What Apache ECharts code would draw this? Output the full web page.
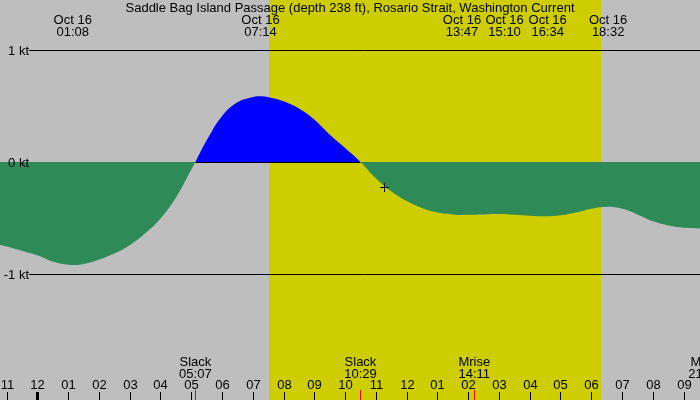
<!DOCTYPE html>
<html>
<head>
<meta charset="utf-8">
<script src="https://cdn.jsdelivr.net/npm/echarts@6/dist/echarts.min.js"></script>
<style>
html,body{margin:0;padding:0;background:#BEBEBE;}
#c{width:700px;height:400px;}
</style>
</head>
<body>
<div id="c"></div>
<script>
// ---------- data ----------
const titleText = 'Saddle Bag Island Passage (depth 238 ft), Rosario Strait, Washington Current';

// hours since midnight Oct 16 (local), current speed in knots (+ flood, - ebb)
const hours = [-1.232, -1, -0.5, 0, 0.5, 1, 1.133, 1.5, 2, 2.5, 3, 3.5, 4, 4.5, 5, 5.117,
  5.5, 6, 6.5, 7, 7.233, 7.5, 8, 8.5, 9, 9.5, 10, 10.483,
  11, 11.5, 12, 12.5, 13, 13.5, 13.783, 14, 14.5, 15, 15.5, 16, 16.5, 17, 17.5, 18, 18.5,
  19, 19.5, 20, 20.5, 21, 21.518];
const knots = [-0.74, -0.755, -0.795, -0.835, -0.89, -0.918, -0.92, -0.91, -0.87, -0.815, -0.74, -0.635, -0.50, -0.31, -0.06, 0,
  0.20, 0.415, 0.535, 0.58, 0.587, 0.578, 0.54, 0.475, 0.375, 0.24, 0.12, 0,
  -0.15, -0.265, -0.35, -0.412, -0.45, -0.468, -0.473, -0.472, -0.468, -0.465, -0.472, -0.48, -0.485, -0.475, -0.45, -0.418, -0.40,
  -0.418, -0.47, -0.53, -0.567, -0.587, -0.593];

// daylight (sunrise / sunset, hours)
const daylight = [7.51, 18.30];

// hour ticks and their labels
const hourTicks = [-1, 0, 1, 2, 3, 4, 5, 6, 7, 8, 9, 10, 11, 12, 13, 14, 15, 16, 17, 18, 19, 20, 21];
const hourLabels = ['11','12','01','02','03','04','05','06','07','08','09','10','11','12','01','02','03','04','05','06','07','08','09'];

// max / min current events (top)
const topEventTimes = [1.133, 7.233, 13.783, 15.167, 16.567, 18.533];
const topEventDates = ['Oct 16', 'Oct 16', 'Oct 16', 'Oct 16', 'Oct 16', 'Oct 16'];
const topEventClock = ['01:08', '07:14', '13:47', '15:10', '16:34', '18:32'];

// slack / moon events (bottom)
const bottomEventTimes = [5.117, 10.483, 14.183, 21.667];
const bottomEventNames = ['Slack', 'Slack', 'Mrise', 'Mset'];
const bottomEventClock = ['05:07', '10:29', '14:11', '21:40'];

// slack times bounding the flood (zero line visible there)
const slackTimes = [5.117, 10.483];

// current-time marker
const nowTime = [11.245];
const nowKnots = [-0.226];

// speed reference lines
const ktValues = [1, 0, -1];
const ktLabels = ['1 kt', '0 kt', '-1 kt'];

// ---------- chart ----------
const X_MIN = -1.2317, X_MAX = 21.5177;
const Y_MAX = 162 / 112, Y_MIN = -238 / 112;
const FAM = '"Liberation Sans", Arial, sans-serif';
const FONT = '13px ' + FAM;

const chart = echarts.init(document.getElementById('c'), null, {renderer: 'canvas', width: 700, height: 400});

const curveData = hours.map((h, i) => [h, knots[i]]);

const option = {
  animation: false,
  backgroundColor: '#BEBEBE',
  title: {
    text: titleText, left: 'center', top: 0, padding: 0,
    textStyle: {fontSize: 13, fontWeight: 'normal', fontFamily: FAM, color: '#000', lineHeight: 16}
  },
  grid: {left: 0, right: 0, top: 0, bottom: 0},
  xAxis: {type: 'value', min: X_MIN, max: X_MAX, show: false},
  yAxis: {type: 'value', min: Y_MIN, max: Y_MAX, show: false},
  visualMap: {
    type: 'piecewise', show: false, seriesIndex: 1, dimension: 1,
    pieces: [{min: -5, max: 0, color: '#2E8B57'}, {gt: 0, max: 5, color: '#0000FF'}]
  },
  series: [
    // daylight band
    {
      type: 'custom', z: 1, silent: true,
      data: [[daylight[0], daylight[1]]],
      renderItem: (p, api) => {
        const a = api.coord([api.value(0), Y_MAX]);
        const b = api.coord([api.value(1), Y_MIN]);
        const x0 = Math.round(a[0]), x1 = Math.round(b[0]);
        return {type: 'rect', shape: {x: x0, y: a[1], width: x1 - x0, height: b[1] - a[1]}, style: {fill: '#CDCD00'}};
      }
    },
    // current curve
    {
      type: 'line', z: 2, silent: true,
      data: curveData, smooth: 0.4, showSymbol: false,
      lineStyle: {width: 0, opacity: 0},
      areaStyle: {opacity: 1}
    },
    // kt reference lines and labels
    {
      type: 'custom', z: 3, silent: true,
      data: ktValues.map((v, i) => [X_MIN, v, i]),
      renderItem: (p, api) => {
        const v = api.value(1);
        const c = api.coord([X_MIN, v]);
        const y = Math.round(c[1]) + 0.5;
        const children = [{
          type: 'text',
          style: {text: ktLabels[api.value(2)], x: 29, y: y + 0.5, align: 'right', verticalAlign: 'middle', font: FONT, fill: '#000'}
        }];
        if (v !== 0) {
          children.push({type: 'line', shape: {x1: 29, y1: y, x2: 700, y2: y}, style: {stroke: '#000', lineWidth: 1}});
        }
        return {type: 'group', children};
      }
    },
    // zero line during flood
    {
      type: 'custom', z: 3, silent: true,
      data: [[slackTimes[0], slackTimes[1]]],
      renderItem: (p, api) => {
        const a = api.coord([api.value(0), 0]);
        const b = api.coord([api.value(1), 0]);
        const y = Math.round(a[1]) + 0.5;
        return {type: 'line', shape: {x1: a[0], y1: y, x2: b[0], y2: y}, style: {stroke: '#000', lineWidth: 1}};
      }
    },
    // hour ticks + labels
    {
      type: 'custom', z: 3, silent: true,
      data: hourTicks.map((h, i) => [h, i]),
      renderItem: (p, api) => {
        const h = api.value(0);
        const c = api.coord([h, Y_MIN]);
        const x = Math.floor(c[0]) + 0.5;
        return {type: 'group', children: [
          {type: 'line', shape: {x1: x, y1: 392, x2: x, y2: 400}, style: {stroke: '#000', lineWidth: (h % 24 === 0) ? 3 : 1}},
          {type: 'text', style: {text: hourLabels[api.value(1)], x: x, y: 385.5, align: 'center', verticalAlign: 'middle', font: FONT, fill: '#000'}}
        ]};
      }
    },
    // bottom events
    {
      type: 'custom', z: 3, silent: true,
      data: bottomEventTimes.map((t, i) => [t, i]),
      renderItem: (p, api) => {
        const t = api.value(0), i = api.value(1);
        const c = api.coord([t, Y_MIN]);
        const x = Math.floor(c[0]) + 0.5;
        return {type: 'group', children: [
          {type: 'line', shape: {x1: x, y1: 390, x2: x, y2: 400}, style: {stroke: '#FF0000', lineWidth: 1}},
          {type: 'text', style: {text: bottomEventNames[i] + '\n' + bottomEventClock[i], x: c[0], y: 368.5, align: 'center', verticalAlign: 'middle', lineHeight: 12.5, font: FONT, fill: '#000'}}
        ]};
      }
    },
    // top events
    {
      type: 'custom', z: 3, silent: true,
      data: topEventTimes.map((t, i) => [t, i]),
      renderItem: (p, api) => {
        const t = api.value(0), i = api.value(1);
        const c = api.coord([t, Y_MAX]);
        return {type: 'text', style: {text: topEventDates[i] + '\n' + topEventClock[i], x: c[0], y: 26, align: 'center', verticalAlign: 'middle', lineHeight: 12, font: FONT, fill: '#000'}};
      }
    },
    // current-time marker
    {
      type: 'custom', z: 4, silent: true,
      data: nowTime.map((t, i) => [t, nowKnots[i]]),
      renderItem: (p, api) => {
        const c = api.coord([api.value(0), api.value(1)]);
        const x = Math.round(c[0]) + 0.5, y = Math.floor(c[1]) + 0.5;
        return {type: 'group', children: [
          {type: 'line', shape: {x1: x - 4.5, y1: y, x2: x + 4.5, y2: y}, style: {stroke: '#000', lineWidth: 1}},
          {type: 'line', shape: {x1: x, y1: y - 4.5, x2: x, y2: y + 4.5}, style: {stroke: '#000', lineWidth: 1}}
        ]};
      }
    }
  ]
};
chart.setOption(option);
</script>
</body>
</html>
